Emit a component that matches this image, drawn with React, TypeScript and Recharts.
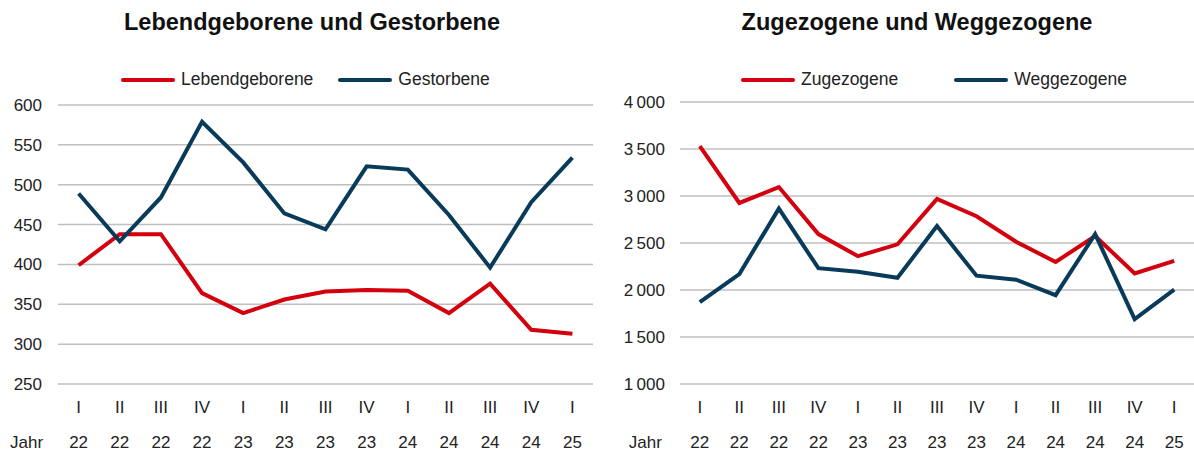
import React from 'react';
import { LineChart, Line, XAxis, YAxis, CartesianGrid, Legend } from 'recharts';

const quarters = ['I', 'II', 'III', 'IV', 'I', 'II', 'III', 'IV', 'I', 'II', 'III', 'IV', 'I'];
const years = ['22', '22', '22', '22', '23', '23', '23', '23', '24', '24', '24', '24', '25'];

const lebendgeborene = [399, 438, 438, 364, 339, 356, 366, 368, 367, 339, 376, 318, 313];
const gestorbene = [489, 429, 484, 579, 528, 464, 444, 523, 519, 462, 396, 478, 534];

const zugezogene = [3530, 2926, 3095, 2595, 2360, 2486, 2970, 2785, 2514, 2298, 2574, 2176, 2310];
const weggezogene = [1872, 2170, 2866, 2232, 2193, 2130, 2680, 2152, 2110, 1945, 2595, 1690, 2004];

const leftTicks = [250, 300, 350, 400, 450, 500, 550, 600];
const rightTicks = [1000, 1500, 2000, 2500, 3000, 3500, 4000];

const leftSeries = ['Lebendgeborene', 'Gestorbene'];
const rightSeries = ['Zugezogene', 'Weggezogene'];

const RED = '#d3000d';
const BLUE = '#083b59';
const GRID = '#bfbfbf';
const TEXT = '#222222';
const FONT = '"Liberation Sans", Arial, sans-serif';
const AX = 17;

const leftData = quarters.map((q, i) => ({
  period: `${q} ${years[i]}`,
  Lebendgeborene: lebendgeborene[i],
  Gestorbene: gestorbene[i],
}));

const rightData = quarters.map((q, i) => ({
  period: `${q} ${years[i]}`,
  Zugezogene: zugezogene[i],
  Weggezogene: weggezogene[i],
}));

const fmtThousands = (v: number) => String(v).replace(/\B(?=(\d{3})+(?!\d))/g, '\u2009');

const makeXTick = (jahrOffset: number) => (props: any) => {
  const { x, y, payload, index } = props;
  const [q, yr] = String(payload.value).split(' ');
  return (
    <g>
      <text x={x} y={y + 29} textAnchor="middle" fill={TEXT} fontSize={AX} fontFamily={FONT}>
        {q}
      </text>
      <text x={x} y={y + 64} textAnchor="middle" fill={TEXT} fontSize={AX} fontFamily={FONT}>
        {yr}
      </text>
      {index === 0 ? (
        <text x={x - jahrOffset} y={y + 64} textAnchor="end" fill={TEXT} fontSize={AX} fontFamily={FONT}>
          Jahr
        </text>
      ) : null}
    </g>
  );
};

const makeLegend = (gap: number, order: string[]) => (props: any) => {
  const items = [...(props.payload || [])].sort(
    (a: any, b: any) => order.indexOf(a.value) - order.indexOf(b.value)
  );
  return (
    <div style={{ display: 'flex', alignItems: 'center', fontFamily: FONT, fontSize: 17.5, color: TEXT, whiteSpace: 'nowrap' }}>
      {items.map((it: any, i: number) => (
        <div key={it.value} style={{ display: 'flex', alignItems: 'center', marginLeft: i === 0 ? 0 : gap }}>
          <svg width={54} height={8} style={{ marginRight: 6 }}>
            <line x1={2} y1={4} x2={52} y2={4} stroke={it.color} strokeWidth={4} strokeLinecap="round" />
          </svg>
          <span>{it.value}</span>
        </div>
      ))}
    </div>
  );
};

const titleStyle = (center: number): React.CSSProperties => ({
  position: 'absolute',
  top: 8,
  left: center - 300,
  width: 600,
  textAlign: 'center',
  fontFamily: FONT,
  fontWeight: 700,
  fontSize: 23.5,
  color: '#111',
  lineHeight: '28px',
});

export default function App() {
  return (
    <div style={{ position: 'absolute', left: 0, top: 0, width: 1194, height: 452, background: '#fff', overflow: 'hidden' }}>
      <div style={titleStyle(312)}>Lebendgeborene und Gestorbene</div>
      <div style={titleStyle(917)}>Zugezogene und Weggezogene</div>

      <div style={{ position: 'absolute', left: 0, top: 0 }}>
        <LineChart width={597} height={452} data={leftData} margin={{ top: 105, right: 4, bottom: 0, left: 8 }}>
          <CartesianGrid vertical={false} stroke={GRID} strokeWidth={1.5} />
          <XAxis
            dataKey="period"
            interval={0}
            tickLine={false}
            axisLine={false}
            tickSize={0}
            tickMargin={0}
            height={68}
            padding={{ left: 20.6, right: 20.6 }}
            tick={makeXTick(35.5)}
          />
          <YAxis
            domain={[250, 600]}
            ticks={leftTicks}
            interval={0}
            width={50}
            tickLine={false}
            axisLine={false}
            tickSize={6}
            tickMargin={10}
            tick={{ fill: TEXT, fontSize: AX, fontFamily: FONT }}
          />
          <Legend
            layout="vertical"
            align="center"
            verticalAlign="middle"
            wrapperStyle={{ position: 'absolute', left: 121, top: 69, width: 'auto' }}
            content={makeLegend(25, leftSeries)}
          />
          <Line type="linear" dataKey="Lebendgeborene" stroke={RED} strokeWidth={4} dot={false} isAnimationActive={false} />
          <Line type="linear" dataKey="Gestorbene" stroke={BLUE} strokeWidth={4} dot={false} isAnimationActive={false} />
        </LineChart>
      </div>

      <div style={{ position: 'absolute', left: 597, top: 0 }}>
        <LineChart width={597} height={452} data={rightData} margin={{ top: 102, right: 0, bottom: 0, left: 8 }}>
          <CartesianGrid vertical={false} stroke={GRID} strokeWidth={1.5} />
          <XAxis
            dataKey="period"
            interval={0}
            tickLine={false}
            axisLine={false}
            tickSize={0}
            tickMargin={0}
            height={68}
            padding={{ left: 19.8, right: 19.8 }}
            tick={makeXTick(38)}
          />
          <YAxis
            domain={[1000, 4000]}
            ticks={rightTicks}
            interval={0}
            width={75}
            tickLine={false}
            axisLine={false}
            tickSize={6}
            tickMargin={9}
            tickFormatter={fmtThousands}
            tick={{ fill: TEXT, fontSize: AX, fontFamily: FONT }}
          />
          <Legend
            layout="vertical"
            align="center"
            verticalAlign="middle"
            wrapperStyle={{ position: 'absolute', left: 144, top: 69, width: 'auto' }}
            content={makeLegend(56, rightSeries)}
          />
          <Line type="linear" dataKey="Zugezogene" stroke={RED} strokeWidth={4} dot={false} isAnimationActive={false} />
          <Line type="linear" dataKey="Weggezogene" stroke={BLUE} strokeWidth={4} dot={false} isAnimationActive={false} />
        </LineChart>
      </div>
    </div>
  );
}
